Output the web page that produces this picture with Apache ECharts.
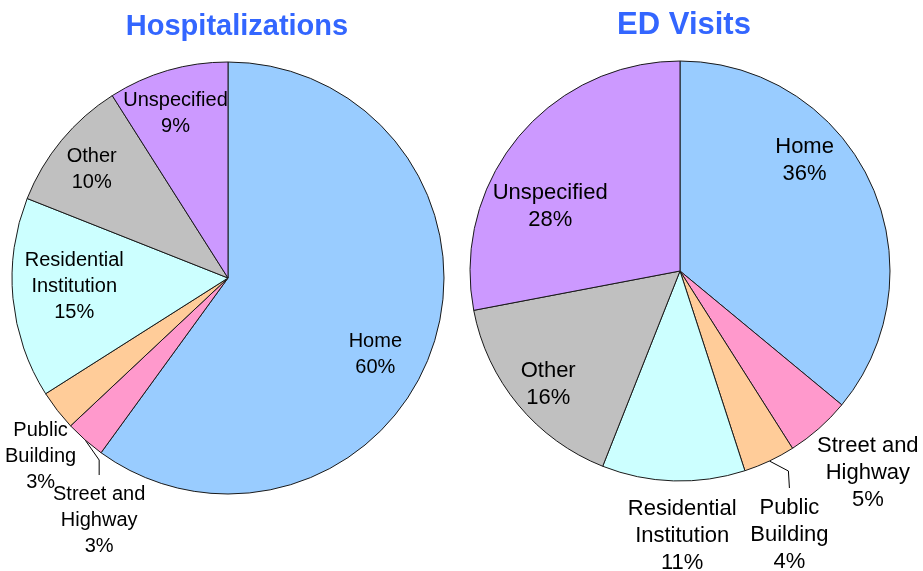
<!DOCTYPE html>
<html>
<head>
<meta charset="utf-8">
<script src="https://cdn.jsdelivr.net/npm/echarts@6/dist/echarts.min.js"></script>
<style>
  html, body { margin: 0; padding: 0; background: #fff; }
  #chart { width: 923px; height: 571px; }
</style>
</head>
<body>
<div id="chart"></div>
<script>
// slice order runs clockwise from 12 o'clock
var categories = ['Home', 'Street and Highway', 'Public Building', 'Residential Institution', 'Other', 'Unspecified'];
var sliceColors = ['#99CCFF', '#FF99CC', '#FFCC99', '#CCFFFF', '#C0C0C0', '#CC99FF'];
var hospValues = [60, 3, 3, 15, 10, 9];
var edValues = [36, 5, 4, 11, 16, 28];

var FONT = '"Liberation Sans", Arial, sans-serif';

// label placement tweaks (not data).
// outside: offset from slice edge point to label top centre
// inside: small nudge after pushing label out to ~3/4 radius
var hospLabels = {
    0: { nx: -11, ny: 25 },
    1: { out: true, dx: 14, dy: 41, line: true, bend: [14, 20] },
    2: { out: true, dx: -12, dy: 3 },
    3: { nx: 12, ny: -7 },
    4: { nx: -8, ny: -2 },
    5: { nx: -6, ny: -5 }
};
var edLabels = {
    0: { nx: -22, ny: -42 },
    1: { out: true, dx: 45, dy: -1 },
    2: { out: true, dx: 20, dy: 33, line: true, bend: [19, 10] },
    3: { out: true, dx: 9, dy: 9 },
    4: { nx: -7, ny: 10 },
    5: { nx: -5, ny: 39 }
};

function splitName(name) {
    var i = name.lastIndexOf(' ');
    return i > 0 ? name.slice(0, i) + '\n' + name.slice(i + 1) : name;
}

function buildPie(values, center, radius, tweaks, fontSize, lineHeight) {
    var data = values.map(function (v, i) {
        var item = {
            name: categories[i],
            value: v,
            itemStyle: { color: sliceColors[i] }
        };
        if (tweaks[i] && tweaks[i].line) {
            item.label = { position: 'outside' };
            item.labelLine = { show: true, length: 10, length2: 10 };
        }
        return item;
    });
    return {
        type: 'pie',
        center: center,
        radius: radius,
        startAngle: 90,
        clockwise: true,
        avoidLabelOverlap: false,
        animation: false,
        itemStyle: { borderColor: '#1a1a1a', borderWidth: 1 },
        label: {
            show: true,
            position: 'inside',
            color: '#000',
            fontFamily: FONT,
            fontSize: fontSize,
            lineHeight: lineHeight,
            align: 'center',
            formatter: function (p) { return splitName(p.name) + '\n' + p.value + '%'; }
        },
        labelLine: { show: false, lineStyle: { color: '#000', width: 1 } },
        labelLayout: function (p) {
            var cx = center[0], cy = center[1];
            var r = p.labelRect;
            var o = tweaks[p.dataIndex] || {};
            if (!o.out) {
                // push inside labels from mid radius out to ~3/4 radius
                var lx = r.x + r.width / 2, ly = r.y + r.height / 2;
                return {
                    x: cx + 1.5 * (lx - cx) + (o.nx || 0),
                    y: cy + 1.5 * (ly - cy) + (o.ny || 0),
                    align: 'center',
                    verticalAlign: 'middle'
                };
            }
            var edge;
            if (o.line && p.labelLinePoints) {
                edge = p.labelLinePoints[0];
            } else {
                var mx = r.x + r.width / 2, my = r.y + r.height / 2;
                edge = [cx + 2 * (mx - cx), cy + 2 * (my - cy)];
            }
            var res = {
                x: edge[0] + o.dx,
                y: edge[1] + o.dy,
                align: 'center',
                verticalAlign: 'top'
            };
            if (o.line) {
                res.labelLinePoints = [
                    [edge[0], edge[1]],
                    [edge[0] + o.bend[0], edge[1] + o.bend[1]],
                    [edge[0] + o.dx, edge[1] + o.dy - 6]
                ];
            }
            return res;
        },
        emphasis: { disabled: true },
        data: data
    };
}

var chart = echarts.init(document.getElementById('chart'));
chart.setOption({
    backgroundColor: '#fff',
    animation: false,
    title: [
        {
            text: 'Hospitalizations',
            left: 237, top: 12, padding: 0, textAlign: 'center',
            textStyle: { color: '#3366FF', fontSize: 29, fontWeight: 'bold', fontFamily: FONT }
        },
        {
            text: 'ED Visits',
            left: 684, top: 10, padding: 0, textAlign: 'center',
            textStyle: { color: '#3366FF', fontSize: 31, fontWeight: 'bold', fontFamily: FONT }
        }
    ],
    series: [
        buildPie(hospValues, [228, 278], 216, hospLabels, 20, 26),
        buildPie(edValues, [680, 271], 210, edLabels, 22, 27)
    ]
});
</script>
</body>
</html>
